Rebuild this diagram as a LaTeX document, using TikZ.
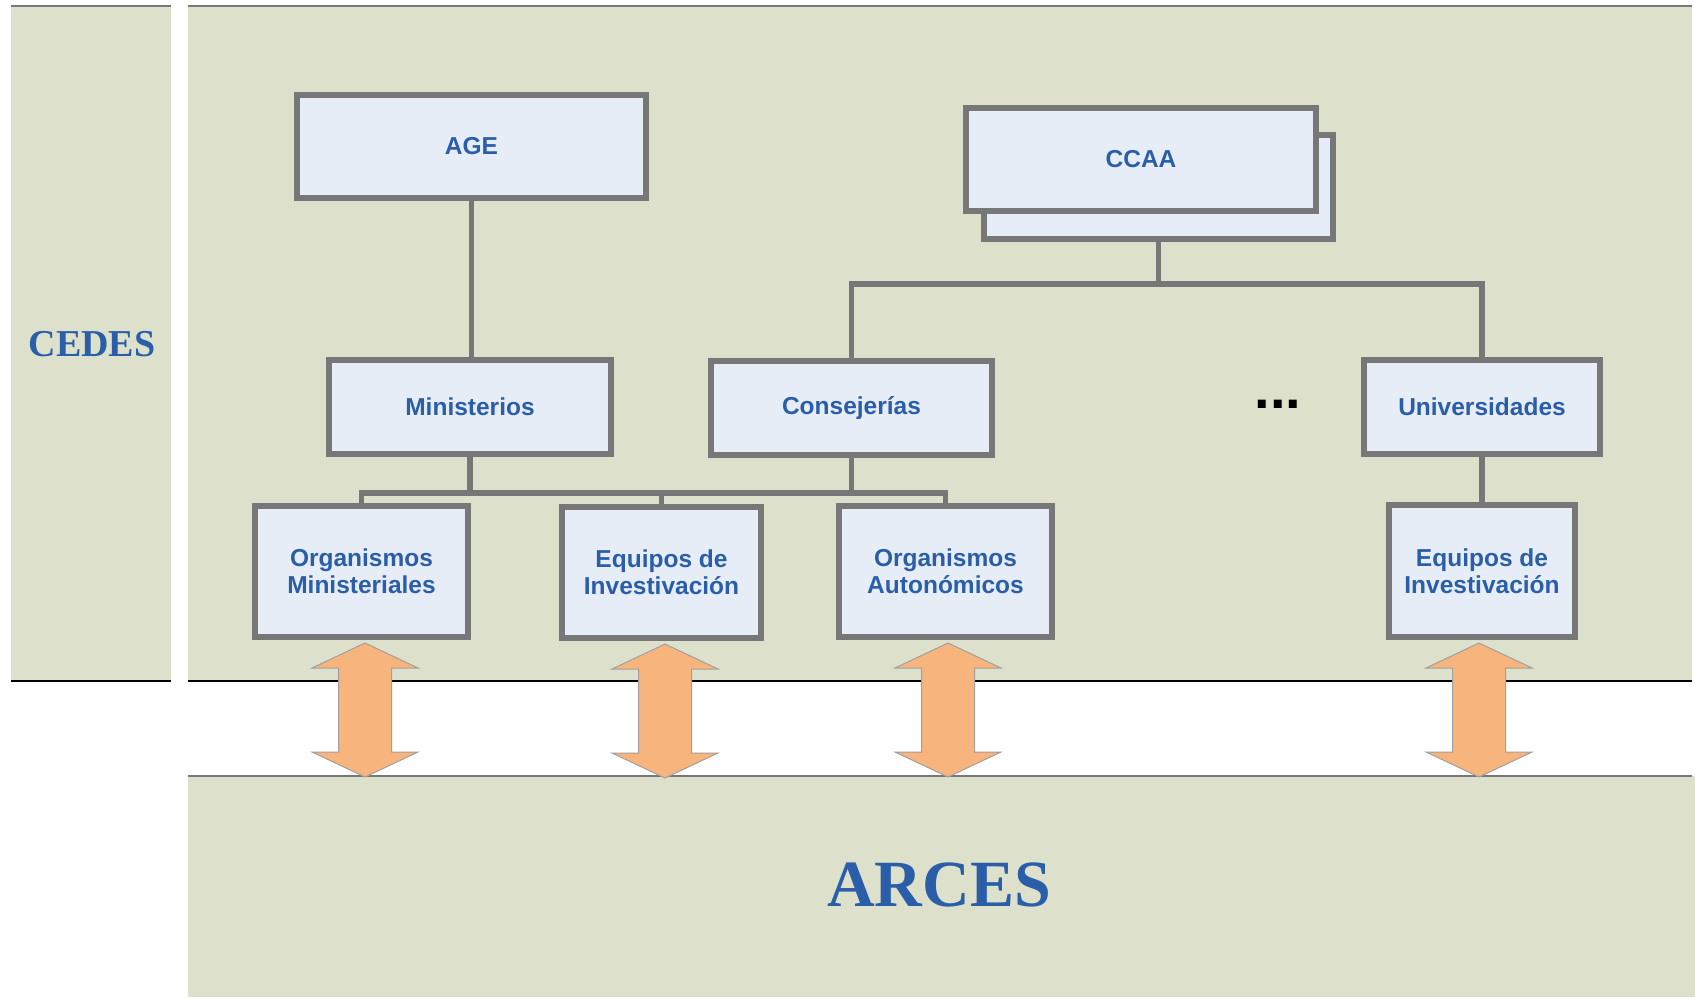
\documentclass[tikz,border=0pt]{standalone}
\usepackage{fontspec}
\setmainfont{Liberation Serif}
\setsansfont{Liberation Sans}
\usetikzlibrary{positioning}
\definecolor{panel}{RGB}{221,225,203}
\definecolor{boxfill}{RGB}{230,237,247}
\definecolor{boxline}{RGB}{119,119,119}
\definecolor{title}{RGB}{43,94,168}
\definecolor{arrowfill}{RGB}{247,180,124}

\begin{document}
\begin{tikzpicture}[x=1pt,y=-1pt]
	\useasboundingbox (0,0) rectangle (1695,997);
	% panels
	\fill[panel] (11,6) rectangle (171,681);
	\fill[panel] (188,6) rectangle (1692,681);
	\fill[panel] (188,776) rectangle (1695,997);
	\draw[boxline,line width=1.5pt] (11,6) -- (171,6) (188,6) -- (1692,6) (188,776) -- (1692,776);
	\draw[black,line width=1.5pt] (11,681) -- (171,681) (188,681) -- (1692,681);

	\node[text=title,font=\bfseries\fontsize{38}{40}\selectfont] (cedes) at (92,344) {CEDES};
	\node[text=title,font=\bfseries\fontsize{66}{70}\selectfont] (arces) at (939,885) {ARCES};

	\begin{scope}[every node/.style={draw=boxline,line width=6pt,fill=boxfill,text=title,inner sep=0pt,
	              align=center,font=\sffamily\bfseries\fontsize{24.5}{27}\selectfont}]
	    \node[minimum width=349pt,minimum height=103pt] (age) at (471.5,146.5) {AGE};
	    \node[minimum width=349pt,minimum height=104pt] (ccaab) at (1158.5,187) {};
	    \node[minimum width=350pt,minimum height=103pt] (ccaa) at (1141,159.5) {CCAA};
	    \node[minimum width=282pt,minimum height=94pt] (min) at (470,407) {Ministerios};
	    \node[minimum width=281pt,minimum height=94pt] (cons) at (851.5,408) {Consejerías};
	    \node[minimum width=236pt,minimum height=94pt] (univ) at (1482,407) {Universidades};
	    \node[minimum width=213pt,minimum height=131pt] (orgmin) at (361.5,571.5) {Organismos\\Ministeriales};
	    \node[minimum width=199pt,minimum height=131pt] (equa) at (661.5,572.5) {Equipos de\\Investivación};
	    \node[minimum width=213pt,minimum height=131pt] (orgaut) at (945.5,571.5) {Organismos\\Autonómicos};
	    \node[minimum width=186pt,minimum height=132pt] (equb) at (1482,571) {Equipos de\\Investivación};
	\end{scope}

	\node[font=\sffamily\bfseries\fontsize{56}{60}\selectfont,anchor=base,inner sep=0pt] (dots) at (1278,408) {...};

	\coordinate (busa) at (0,284);
	\coordinate (busb) at (0,493);
	\begin{scope}[boxline,line width=5.5pt]
	    \draw (age.south) -- (age.south |- min.north);
	    \draw (ccaab.south) -- (ccaab.south |- busa);
	    \draw (cons.north) |- (univ.north |- busa) -- (univ.north);
	    \draw (min.south) -- (min.south |- busb);
	    \draw (cons.south) -- (cons.south |- busb);
	    \draw (orgmin.north) |- (orgaut.north |- busb) -- (orgaut.north);
	    \draw (equa.north) -- (equa.north |- busb);
	    \draw (univ.south) -- (equb.north);
	\end{scope}

	% double arrows down to ARCES
	\foreach \b/\dx in {orgmin/3.5,equa/3.5,orgaut/2.5,equb/-3}
	    \draw[boxline!70,fill=arrowfill,line width=1pt,shift={(\b.south)},xshift=\dx pt]
	        (0,3) -- (53,28) -- (26.5,28) -- (26.5,112) -- (53,112) -- (0,137)
	        -- (-53,112) -- (-26.5,112) -- (-26.5,28) -- (-53,28) -- cycle;
\end{tikzpicture}
\end{document}
